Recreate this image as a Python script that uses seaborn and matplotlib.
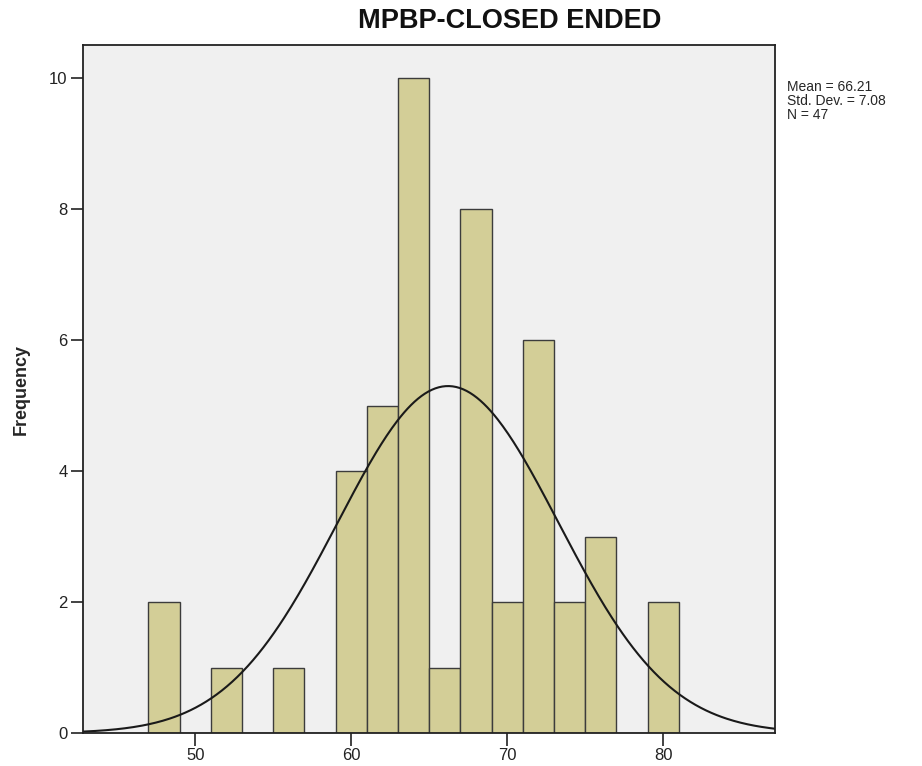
import numpy as np
import pandas as pd
import seaborn as sns
import matplotlib.pyplot as plt

# histogram bins (width 2)
bin_centers = [48, 52, 56, 60, 62, 64, 66, 68, 70, 72, 74, 76, 80]
counts = [2, 1, 1, 4, 5, 10, 1, 8, 2, 6, 2, 3, 2]
bin_edges = list(range(47, 82, 2))

# summary stats shown in the legend box
mean_val = 66.21
std_val = 7.08
n_val = 47

x_ticks = [50, 60, 70, 80]
y_ticks = [0, 2, 4, 6, 8, 10]

df = pd.DataFrame({"score": bin_centers, "count": counts})

sns.set_style("white")
plt.rcParams['font.family'] = ['Liberation Sans', 'DejaVu Sans']

fig = plt.figure(figsize=(9.22, 7.66), dpi=100)
ax = fig.add_axes([0.09, 0.043, 0.751, 0.898])
ax.set_facecolor('#f0f0f0')

sns.histplot(data=df, x="score", weights="count", bins=bin_edges,
             color='#d3ce97', edgecolor='#3c3c3c', linewidth=1.0,
             alpha=1.0, ax=ax)

# normal curve scaled to counts
xs = np.linspace(42.8, 87.2, 400)
bw = 2
ys = n_val * bw * np.exp(-0.5 * ((xs - mean_val) / std_val) ** 2) / (std_val * np.sqrt(2 * np.pi))
sns.lineplot(x=xs, y=ys, color='#1a1a1a', linewidth=1.5, ax=ax)

ax.set_xlim(42.8, 87.2)
ax.set_ylim(0, 10.5)
ax.set_xticks(x_ticks)
ax.set_yticks(y_ticks)
ax.tick_params(axis='both', direction='out', length=9, width=1.2, pad=2,
               labelsize=12, colors='#222222', bottom=True, left=True)
ax.set_xlabel("")
ax.set_ylabel("Frequency", fontsize=13, fontweight='bold', labelpad=14)

for s in ax.spines.values():
    s.set_color('#222222')
    s.set_linewidth(1.3)

fig.text(0.553, 0.973, "MPBP-CLOSED ENDED", ha='center', va='center',
         fontsize=19.5, fontweight='bold', color='#111111')

fig.text(0.854, 0.895, f"Mean = {mean_val:.2f}\nStd. Dev. = {std_val:.2f}\nN = {n_val}",
         ha='left', va='top', fontsize=10, linespacing=1.0)

fig.savefig("out.png", dpi=100)
